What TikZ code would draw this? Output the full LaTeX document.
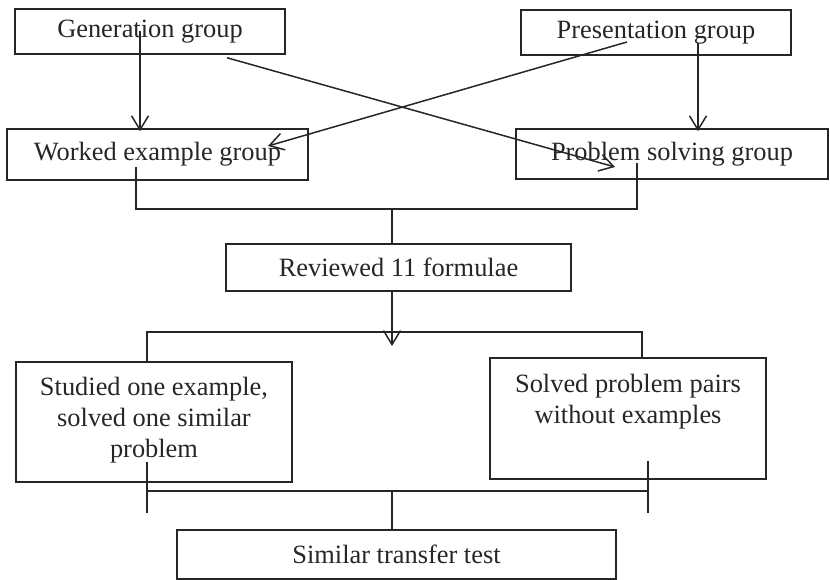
\documentclass[tikz,border=0pt]{standalone}
\usepackage{fontspec}
\setmainfont{Liberation Serif}
\usetikzlibrary{arrows.meta}

\begin{document}
\begin{tikzpicture}[x=1pt, y=-1pt, line width=1.5pt, color=black!85,
    font=\fontsize{26.4}{31}\selectfont,
    box/.style={draw, inner sep=0pt, align=center},
    arr/.style={-{Straight Barb[length=14pt,width=17pt]}}]
	\useasboundingbox (0,0) rectangle (830,580);

	\node[box, minimum width=270pt, minimum height=45pt] (gen) at (150,31.5) {Generation group};
	\node[box, minimum width=270pt, minimum height=45pt] (pres) at (656,32.5) {Presentation group};
	\node[box, minimum width=301pt, minimum height=51pt] (worked) at (157.5,154.5) {Worked example group};
	\node[box, minimum width=312pt, minimum height=50pt] (prob) at (672,154) {Problem solving group};
	\node[box, minimum width=345pt, minimum height=47pt] (reviewed) at (398.5,267.5) {Reviewed 11 formulae};
	\node[box, minimum width=276pt, minimum height=120pt] (studied) at (154,422) {Studied one example,\\solved one similar\\problem\strut};
	\node[box, minimum width=276pt, minimum height=121pt] (solved) at (628,418.5) {Solved problem pairs\\without examples\\\strut};
	\node[box, minimum width=439pt, minimum height=49pt] (similar) at (396.5,554.5) {Similar transfer test};

	% groups
	\draw[arr, shorten >=-3pt] ([xshift=-10pt]gen.center) -- ([xshift=-10pt]gen.center |- worked.north);
	\draw[arr, shorten >=-3pt] ([xshift=42pt,yshift=-10.5pt]pres.center) -- ([xshift=42pt]pres.center |- prob.north);
	\draw[arr] ([xshift=77pt,yshift=-3pt]gen.south) -- ([xshift=-57pt,yshift=-13pt]prob.center);
	\draw[arr] ([xshift=-29pt,yshift=-9.5pt]pres.center) -- ([xshift=110.5pt,yshift=8.5pt]worked.center);

	\coordinate (join1) at (392,209);
	\coordinate (join2) at (392,332);
	\coordinate (join3) at (392,491);

	\draw ([xshift=-21.5pt,yshift=-12.5pt]worked.center) |- (join1) -| ([xshift=-35pt,yshift=-9pt]prob.center);
	\draw (join1) -- (join1 |- reviewed.north);

	\draw[arr] (join1 |- reviewed.south) -- ([yshift=-14pt]join2);
	\draw ([xshift=-7pt]studied.north) |- (join2) -| ([xshift=14pt]solved.north);

	% test
	\coordinate (ltop) at ([xshift=-7pt,yshift=21pt]studied.south);
	\coordinate (lbot) at ([xshift=-7pt,yshift=-30pt]studied.south);
	\coordinate (rtop) at ([xshift=20pt,yshift=19pt]solved.south);
	\coordinate (rbot) at ([xshift=20pt,yshift=-33pt]solved.south);
	\draw (ltop) -- (lbot);
	\draw (rtop) -- (rbot);
	\draw (ltop |- join3) -- (rtop |- join3);
	\draw (join3) -- (join3 |- similar.north);
\end{tikzpicture}
\end{document}
